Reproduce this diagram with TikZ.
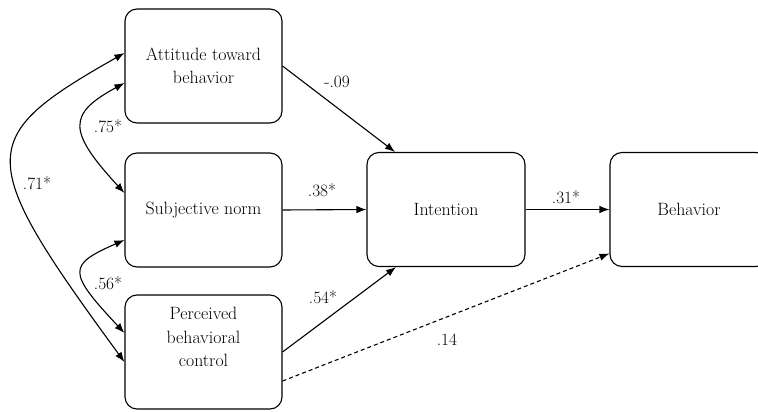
\documentclass[tikz,border=0pt]{standalone}
\usetikzlibrary{arrows.meta}

\begin{document}
\begin{tikzpicture}[>={Latex[length=10pt,width=7.5pt]},x=1pt,y=-1pt,line width=1.1pt,
        box/.style={draw,rounded corners=12pt,minimum width=157pt,minimum height=114pt,
            align=center,font=\fontsize{17.8}{23.5}\selectfont},
        coef/.style={inner sep=0pt,font=\fontsize{17.3}{20}\selectfont}]
                \useasboundingbox (0,0) rectangle (758,412);

                \node[box] (att) at(203.5,66) {Attitude toward\\behavior};
                \node[box] (sub) at(203.5,210) {Subjective norm};
                \node[box,text depth=30pt] (pbc) at(203.5,352) {Perceived\\behavioral\\control};
                \node[box,minimum width=158pt] (int) at(446,209.5) {Intention};
                \node[box,minimum width=158pt] (beh) at(689,209.5) {Behavior};

                \draw[->](att.east)--([xshift=-51pt]int.north);
                \draw[->](sub.east)--(int.west);
                \draw[->](pbc.east)--([xshift=-50pt]int.south);
                \draw[->](int.east)--(beh.west);
                \draw[->,dash pattern=on 4pt off 3pt]([yshift=-29pt]pbc.east)--([yshift=-44pt]beh.west);

                \draw[<->]([yshift=-17pt]att.west) .. controls +(-57,31) and +(-57,-62) .. ([yshift=17pt]sub.west);
                \draw[<->]([yshift=-30pt]sub.west) .. controls +(-57,25) and +(-57,-61) .. ([yshift=19pt]pbc.west);
                \draw[<->]([yshift=13pt]att.west) .. controls +(-150,85) and +(-150,-205) .. ([yshift=-10pt]pbc.west);

                \node[coef] (c1) at(337,82) {-.09};
                \node[coef] (c2) at(322,190) {.38*};
                \node[coef] (c3) at(323,297) {.54*};
                \node[coef] (c4) at(566,197) {.31*};
                \node[coef] (c5) at(447,340) {.14};
                \node[coef] (c6) at(108,126) {.75*};
                \node[coef] (c7) at(108,283) {.56*};
                \node[coef] (c8) at(37,183) {.71*};
            \end{tikzpicture}
\end{document}
